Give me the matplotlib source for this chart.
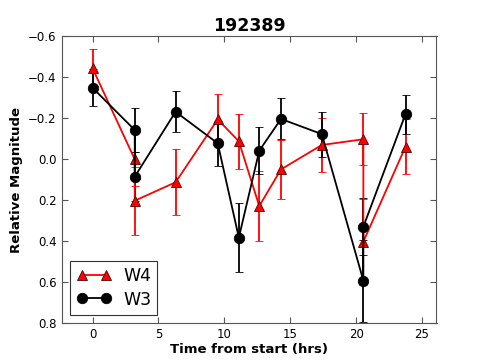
import numpy as np
import matplotlib
matplotlib.use("Agg")
import matplotlib.pyplot as plt
from matplotlib.lines import Line2D

# observation times (hrs); two exposures at 3.2 and 20.6
times = [0.0, 3.2, 3.2, 6.3, 9.5, 11.1, 12.65, 14.3, 17.4, 20.55, 20.55, 23.75]

w4 = [-0.444, 0.0, 0.202, 0.112, -0.195, -0.088, 0.228, 0.049, -0.07, -0.098, 0.402, -0.062]
w4_err = [0.095, 0.13, 0.165, 0.16, 0.125, 0.135, 0.17, 0.145, 0.13, 0.126, 0.21, 0.135]

w3 = [-0.349, -0.143, 0.085, -0.232, -0.078, 0.382, -0.042, -0.197, -0.123, 0.592, 0.329, -0.221]
w3_err = [0.09, 0.105, 0.12, 0.10, 0.11, 0.17, 0.115, 0.10, 0.11, 0.2, 0.14, 0.095]

fig = plt.figure(figsize=(4.85, 3.6), dpi=100)
ax = fig.add_axes([0.127, 0.102, 0.773, 0.797])

style4 = dict(color='red', marker='^', ms=7.5, mec='#550000', mew=0.6, lw=1.3)
style3 = dict(color='black', marker='o', ms=7.5, mec='black', mew=0.6, lw=1.3)

ax.errorbar(times, w4, yerr=w4_err, elinewidth=1.3, capsize=3, capthick=1.3, **style4)
ax.errorbar(times, w3, yerr=w3_err, elinewidth=1.3, capsize=3, capthick=1.3, **style3)

ax.set_xlim(-2.35, 26.1)
ax.set_ylim(0.8, -0.6)
ax.set_xticks([0, 5, 10, 15, 20, 25])
ax.set_yticks(np.arange(-0.6, 0.81, 0.2))
ax.tick_params(direction='in', length=4, labelsize=8.5, top=True, right=True, color='#555555')
for s in ax.spines.values():
    s.set_color('#555555')

ax.set_title('192389', fontsize=12.5, fontweight='bold', pad=4)
ax.set_xlabel('Time from start (hrs)', fontsize=9.5, fontweight='bold', labelpad=1)
ax.set_ylabel('Relative Magnitude', fontsize=9.5, fontweight='bold')

handles = [Line2D([], [], **style4), Line2D([], [], **style3)]
leg = ax.legend(handles, ['W4', 'W3'], loc='lower left', numpoints=2, fontsize=12.5,
                fancybox=False, edgecolor='#333333', framealpha=1, handlelength=2.0,
                handletextpad=0.7, labelspacing=0.3, borderpad=0.35)
leg.get_frame().set_linewidth(0.8)

fig.savefig('out.png', dpi=100)
